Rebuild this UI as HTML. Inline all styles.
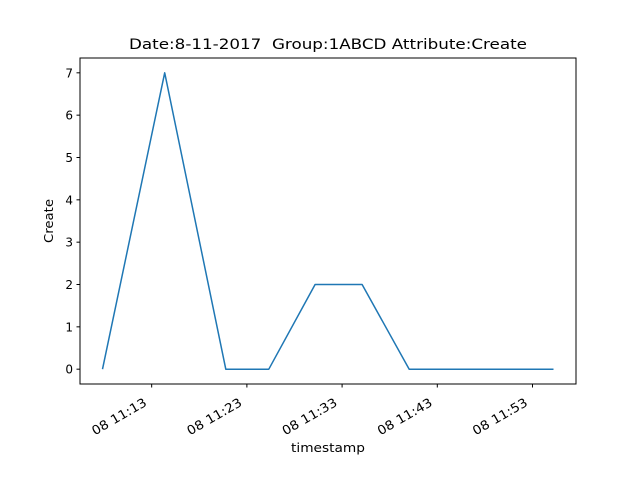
<!DOCTYPE html>
<html><head><meta charset="utf-8"><style>body{margin:0;background:#fff}svg{display:block;font-family:"DejaVu Sans","Liberation Sans",sans-serif}</style></head>
<body>
<svg id="chart" width="640" height="480" viewBox="0 0 640 480">
<rect width="640" height="480" fill="#fff"/>
<text x="328" y="49" font-size="14.5" text-anchor="middle" textLength="398" lengthAdjust="spacingAndGlyphs" xml:space="preserve">Date:8-11-2017  Group:1ABCD Attribute:Create</text>
<g id="plot"></g>
<rect x="80" y="58" width="496" height="326" fill="none" stroke="#000" stroke-width="1"/>
<text x="328" y="452" font-size="12" text-anchor="middle" textLength="74" lengthAdjust="spacingAndGlyphs">timestamp</text>
<text transform="translate(53,221) rotate(-90)" font-size="12" text-anchor="middle" textLength="44" lengthAdjust="spacingAndGlyphs">Create</text>
</svg>
<script>
// minutes after 11:00 on day 08
const times = [7.84, 14.37, 20.79, 25.3, 30.16, 35.1, 40.05, 45, 50, 55.2];
const values = [0, 7, 0, 0, 2, 2, 0, 0, 0, 0];
const xTicks = [13, 23, 33, 43, 53];
const xTickLabels = ["08 11:13", "08 11:23", "08 11:33", "08 11:43", "08 11:53"];
const yTicks = [0, 1, 2, 3, 4, 5, 6, 7];

const NS = "http://www.w3.org/2000/svg";
const g = document.getElementById("plot");
const X0 = 80, X1 = 576, Y0 = 384, Y1 = 58;
const tmin = Math.min(...times), tmax = Math.max(...times), tp = (tmax - tmin) * 0.05;
const vmin = Math.min(...values), vmax = Math.max(...values), vp = (vmax - vmin) * 0.05;
const xs = t => X0 + (t - (tmin - tp)) / ((tmax + tp) - (tmin - tp)) * (X1 - X0);
const ys = v => Y0 - (v - (vmin - vp)) / ((vmax + vp) - (vmin - vp)) * (Y0 - Y1);
function mk(tag, attrs) { const e = document.createElementNS(NS, tag); for (const k in attrs) e.setAttribute(k, attrs[k]); g.appendChild(e); return e; }

yTicks.forEach(v => {
  const y = ys(v);
  const t = mk("line", {x1: X0 - 3.5, x2: X0, y1: y, y2: y, stroke: "#000"});
  
  
  const l = mk("text", {x: X0 - 7, y: y + 4.5, "font-size": 12, "text-anchor": "end"});
  l.textContent = v;
  
  
});
xTicks.forEach((m, i) => {
  const x = xs(m);
  const t = mk("line", {x1: x, x2: x, y1: Y0, y2: Y0 + 3.5, stroke: "#000"});
  
  
  const l = mk("text", {transform: `translate(${x - 4},${Y0 + 21}) rotate(-30)`, "font-size": 12.5, "text-anchor": "end", textLength: 61, lengthAdjust: "spacingAndGlyphs"});
  l.textContent = xTickLabels[i];
  
  
});
const pts = times.map((t, i) => xs(t).toFixed(1) + "," + ys(values[i]).toFixed(1)).join(" ");
const line = mk("polyline", {points: pts, fill: "none", stroke: "#1f77b4", "stroke-width": 1.5, "stroke-linejoin": "round"});


</script>
</body></html>
